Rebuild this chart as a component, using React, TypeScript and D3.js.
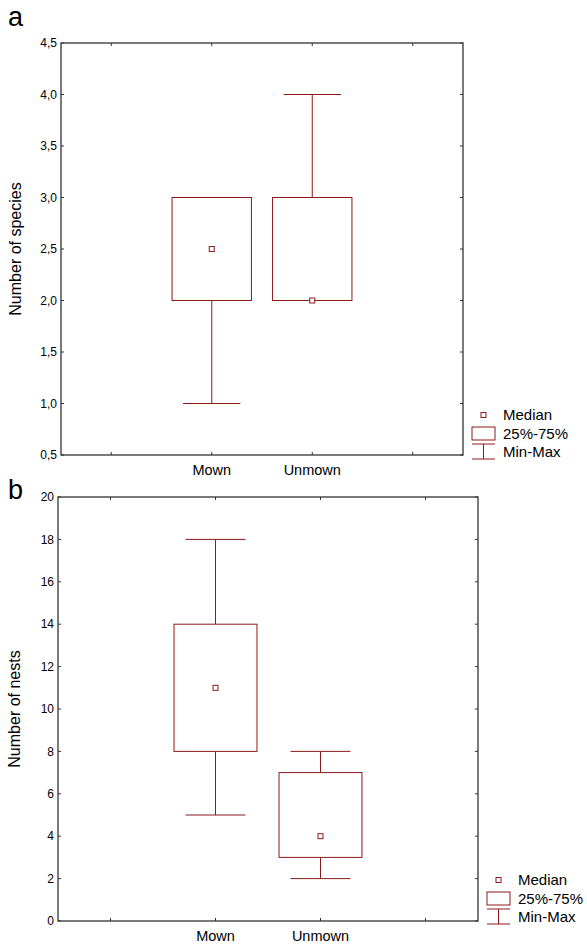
import React from "react";
import * as d3 from "d3";

// slots on the x axis: empty slot, the two groups, empty slot
const slots = ["s0", "Mown", "Unmown", "s3"];
const categories = ["Mown", "Unmown"];

// panel a: number of species
const speciesMin = [1, 2];
const speciesQ1 = [2, 2];
const speciesMedian = [2.5, 2];
const speciesQ3 = [3, 3];
const speciesMax = [3, 4];
const speciesTicks = [0.5, 1, 1.5, 2, 2.5, 3, 3.5, 4, 4.5];

// panel b: number of nests
const nestsMin = [5, 2];
const nestsQ1 = [8, 3];
const nestsMedian = [11, 4];
const nestsQ3 = [14, 7];
const nestsMax = [18, 8];
const nestsTicks = [0, 2, 4, 6, 8, 10, 12, 14, 16, 18, 20];

const legendLabels = ["Median", "25%-75%", "Min-Max"];

const boxColor = "#8b1a1a";
const axisColor = "#333";
const font = "Liberation Sans, Arial, sans-serif";

type PanelProps = {
  letter: string;
  letterY: number;
  title: string;
  titleX: number;
  frame: { left: number; top: number; right: number; bottom: number };
  ticks: number[];
  fmt: (v: number) => string;
  mins: number[];
  q1s: number[];
  medians: number[];
  q3s: number[];
  maxs: number[];
  legend: { x: number; y: number };
};

function Panel(p: PanelProps) {
  const { left, top, right, bottom } = p.frame;
  const y = d3.scaleLinear()
    .domain([p.ticks[0], p.ticks[p.ticks.length - 1]])
    .range([bottom, top]);
  const x = d3.scaleBand().domain(slots).range([left, right]).padding(0);
  const bw = x.bandwidth();
  const boxW = bw * 0.79;
  const capW = bw * 0.57;
  const tickLen = 3;
  const lg = p.legend;

  return (
    <g>
      <text x={8} y={p.letterY} fontSize={27} fontFamily={font}>{p.letter}</text>
      <text
        transform={`translate(${p.titleX},${(top + bottom) / 2}) rotate(-90)`}
        textAnchor="middle" fontSize={16} fontFamily={font}
      >{p.title}</text>

      {/* y ticks, both sides */}
      {p.ticks.map(t => (
        <g key={"y" + t}>
          <line x1={left} x2={left + tickLen} y1={y(t)} y2={y(t)} stroke={axisColor} />
          <line x1={right} x2={right - tickLen} y1={y(t)} y2={y(t)} stroke={axisColor} />
          <text x={left - 4} y={y(t)} dy="0.35em" textAnchor="end" fontSize={12} fontFamily={font}>
            {p.fmt(t)}
          </text>
        </g>
      ))}

      {/* x ticks, bottom and top */}
      {slots.map(s => {
        const cx = (x(s) as number) + bw / 2;
        return (
          <g key={"x" + s}>
            <line x1={cx} x2={cx} y1={bottom} y2={bottom - tickLen} stroke={axisColor} />
            <line x1={cx} x2={cx} y1={top} y2={top + tickLen} stroke={axisColor} />
            {categories.includes(s) && (
              <text x={cx} y={bottom + 20} textAnchor="middle" fontSize={14.5} fontFamily={font}>{s}</text>
            )}
          </g>
        );
      })}

      {/* boxes */}
      {categories.map((c, i) => {
        const cx = (x(c) as number) + bw / 2;
        return (
          <g key={c} stroke={boxColor} fill="none" strokeWidth={1}>
            <line x1={cx} x2={cx} y1={y(p.maxs[i])} y2={y(p.q3s[i])} />
            <line x1={cx} x2={cx} y1={y(p.q1s[i])} y2={y(p.mins[i])} />
            <line x1={cx - capW / 2} x2={cx + capW / 2} y1={y(p.maxs[i])} y2={y(p.maxs[i])} />
            <line x1={cx - capW / 2} x2={cx + capW / 2} y1={y(p.mins[i])} y2={y(p.mins[i])} />
            <rect x={cx - boxW / 2} y={y(p.q3s[i])} width={boxW}
              height={y(p.q1s[i]) - y(p.q3s[i])} fill="white" />
            <rect x={cx - 2.5} y={y(p.medians[i]) - 2.5} width={5} height={5} fill="white" />
          </g>
        );
      })}

      {/* frame */}
      <rect x={left} y={top} width={right - left} height={bottom - top}
        fill="none" stroke={axisColor} strokeWidth={1.3} />

      {/* legend */}
      <g stroke={boxColor} fill="white">
        <rect x={lg.x + 9} y={lg.y - 2.5} width={5} height={5} />
        <rect x={lg.x} y={lg.y + 12} width={23} height={13} />
        <line x1={lg.x} x2={lg.x + 23} y1={lg.y + 29} y2={lg.y + 29} />
        <line x1={lg.x + 11.5} x2={lg.x + 11.5} y1={lg.y + 29} y2={lg.y + 44} />
        <line x1={lg.x} x2={lg.x + 23} y1={lg.y + 44} y2={lg.y + 44} />
      </g>
      {legendLabels.map((l, i) => (
        <text key={l} x={lg.x + 31} y={lg.y + i * 18.5} dy="0.36em" fontSize={15} fontFamily={font}>{l}</text>
      ))}
    </g>
  );
}

const commaFmt = (v: number) => d3.format(".1f")(v).replace(".", ",");

export default function App() {
  return (
    <svg width={587} height={950} style={{ position: "absolute", left: 0, top: 0 }}>
      <rect width={587} height={950} fill="white" />
      <Panel
        letter="a" letterY={26} title="Number of species" titleX={21}
        frame={{ left: 61, top: 43, right: 463, bottom: 455 }}
        ticks={speciesTicks} fmt={commaFmt}
        mins={speciesMin} q1s={speciesQ1} medians={speciesMedian} q3s={speciesQ3} maxs={speciesMax}
        legend={{ x: 472, y: 415 }}
      />
      <Panel
        letter="b" letterY={499} title="Number of nests" titleX={20}
        frame={{ left: 58, top: 497, right: 478, bottom: 921 }}
        ticks={nestsTicks} fmt={v => String(v)}
        mins={nestsMin} q1s={nestsQ1} medians={nestsMedian} q3s={nestsQ3} maxs={nestsMax}
        legend={{ x: 487, y: 880 }}
      />
    </svg>
  );
}
